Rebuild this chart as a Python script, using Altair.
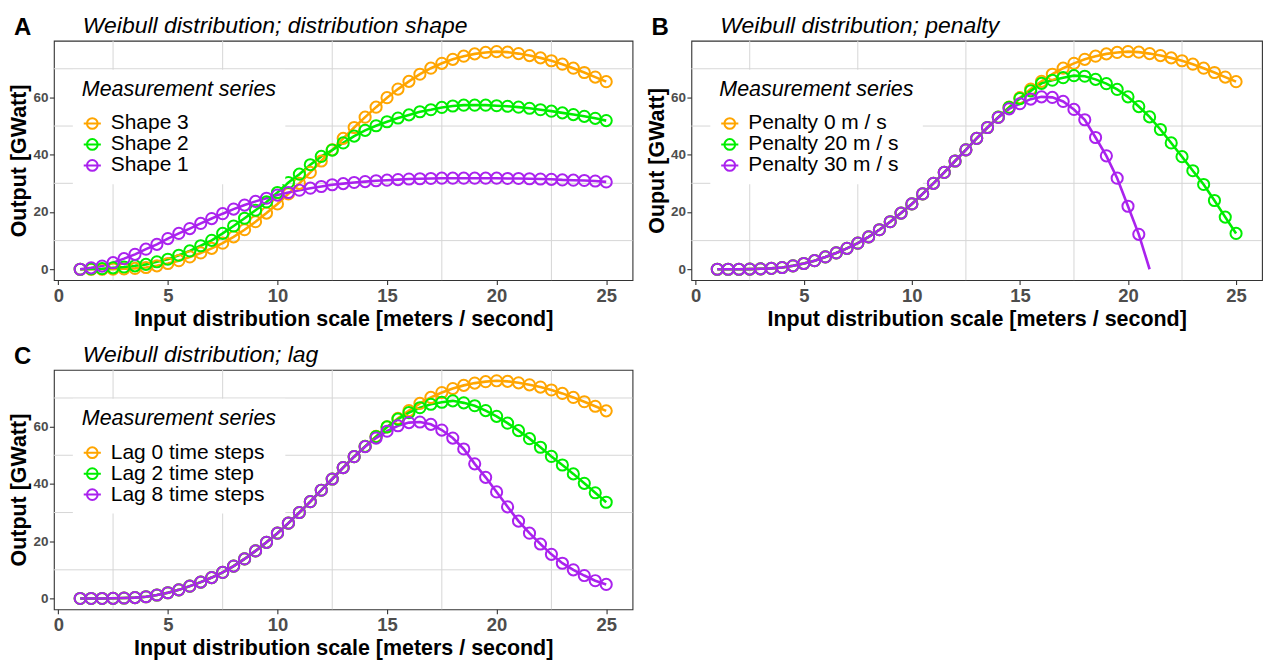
import altair as alt
import pandas as pd

FONT = "Liberation Sans"

x_vals = [1, 1.5, 2, 2.5, 3, 3.5, 4, 4.5, 5, 5.5, 6, 6.5, 7, 7.5, 8, 8.5, 9, 9.5,
          10, 10.5, 11, 11.5, 12, 12.5, 13, 13.5, 14, 14.5, 15, 15.5, 16, 16.5,
          17, 17.5, 18, 18.5, 19, 19.5, 20, 20.5, 21, 21.5, 22, 22.5, 23, 23.5,
          24, 24.5, 25]
x_pen30 = [1, 1.5, 2, 2.5, 3, 3.5, 4, 4.5, 5, 5.5, 6, 6.5, 7, 7.5, 8, 8.5, 9, 9.5,
           10, 10.5, 11, 11.5, 12, 12.5, 13, 13.5, 14, 14.5, 15, 15.5, 16, 16.5,
           17, 17.5, 18, 18.5, 19, 19.5, 20, 20.5, 21]

# Panel A
shape3 = [0, 0, 0, 0.05, 0.15, 0.3, 0.6, 1.2, 2.0, 3.0, 4.3, 5.7, 7.3, 9.1, 11.3,
          13.8, 16.6, 19.6, 22.8, 26.3, 30.0, 33.8, 37.8, 41.7, 45.7, 49.5, 53.1,
          56.6, 59.9, 62.9, 65.6, 68.1, 70.2, 71.9, 73.3, 74.4, 75.2, 75.7, 76.0,
          75.8, 75.3, 74.6, 73.8, 72.8, 71.6, 70.2, 68.7, 67.1, 65.5]
shape2 = [0, 0.1, 0.2, 0.5, 0.8, 1.2, 1.7, 2.6, 3.5, 4.9, 6.4, 8.2, 10.1, 12.5, 15.1,
          17.8, 20.6, 23.5, 26.8, 30.3, 33.2, 36.5, 39.4, 41.6, 44.1, 46.5, 48.5,
          50.1, 51.5, 52.8, 53.9, 55.0, 55.7, 56.5, 57.0, 57.3, 57.3, 57.3, 57.1,
          56.9, 56.6, 56.2, 55.7, 55.2, 54.6, 54.0, 53.4, 52.7, 51.9]
shape1 = [0, 0.5, 1.1, 2.3, 3.7, 5.2, 7.0, 8.7, 10.7, 12.5, 14.2, 16.0, 17.7, 19.4,
          21.0, 22.4, 23.7, 24.8, 25.9, 26.8, 27.6, 28.3, 28.9, 29.5, 29.9, 30.3,
          30.6, 30.9, 31.1, 31.3, 31.5, 31.6, 31.7, 31.8, 31.8, 31.8, 31.8, 31.8,
          31.8, 31.7, 31.7, 31.6, 31.5, 31.4, 31.2, 31.1, 31.0, 30.8, 30.5]

# Panel B
pen0 = [0, 0, 0, 0.05, 0.15, 0.3, 0.6, 1.2, 2.0, 3.0, 4.3, 5.7, 7.3, 9.1, 11.3,
        13.8, 16.6, 19.6, 22.8, 26.3, 30.0, 33.8, 37.8, 41.7, 45.7, 49.5, 53.1,
        56.6, 59.9, 62.9, 65.6, 68.1, 70.2, 71.9, 73.3, 74.4, 75.2, 75.7, 76.0,
        75.8, 75.3, 74.6, 73.8, 72.8, 71.6, 70.2, 68.7, 67.1, 65.5]
pen20 = [0, 0, 0, 0.05, 0.15, 0.3, 0.6, 1.2, 2.0, 3.0, 4.3, 5.7, 7.3, 9.1, 11.3,
         13.8, 16.6, 19.6, 22.8, 26.3, 30.0, 33.8, 37.8, 41.7, 45.7, 49.5, 53.1,
         56.5, 59.6, 62.3, 64.9, 66.0, 66.9, 67.6, 67.4, 66.3, 64.8, 62.8, 60.2,
         56.8, 53.2, 48.8, 44.1, 39.3, 34.4, 29.6, 24.0, 18.2, 12.5]
pen30 = [0, 0, 0, 0.05, 0.15, 0.3, 0.6, 1.2, 2.0, 3.0, 4.3, 5.7, 7.3, 9.1, 11.3,
         13.8, 16.6, 19.6, 22.8, 26.3, 30.0, 33.8, 37.8, 41.7, 45.7, 49.5, 53.0,
         56.0, 57.8, 59.4, 60.2, 60.0, 58.6, 55.8, 52.2, 46.0, 39.6, 31.8, 22.0,
         12.2, 0]

# Panel C
lag0 = [0, 0, 0, 0.05, 0.15, 0.3, 0.6, 1.2, 2.0, 3.0, 4.3, 5.7, 7.3, 9.1, 11.3,
        13.8, 16.6, 19.6, 22.8, 26.3, 30.0, 33.8, 37.8, 41.7, 45.7, 49.5, 53.1,
        56.6, 59.9, 62.9, 65.6, 68.1, 70.2, 71.9, 73.3, 74.4, 75.2, 75.7, 76.0,
        75.8, 75.3, 74.6, 73.8, 72.8, 71.6, 70.2, 68.7, 67.1, 65.5]
lag2 = [0, 0, 0, 0.05, 0.15, 0.3, 0.6, 1.2, 2.0, 3.0, 4.3, 5.7, 7.3, 9.1, 11.3,
        13.8, 16.6, 19.6, 22.8, 26.3, 30.0, 33.8, 37.8, 41.7, 45.7, 49.5, 53.1,
        56.5, 59.9, 62.6, 64.9, 66.6, 67.8, 68.5, 69.0, 68.3, 67.3, 65.6, 63.6,
        61.2, 58.6, 55.8, 52.8, 49.6, 46.6, 43.5, 40.2, 36.9, 33.6]
lag8 = [0, 0, 0, 0.05, 0.15, 0.3, 0.6, 1.2, 2.0, 3.0, 4.3, 5.7, 7.3, 9.1, 11.3,
        13.8, 16.6, 19.6, 22.8, 26.3, 30.0, 33.8, 37.8, 41.7, 45.7, 49.5, 53.0,
        56.0, 58.4, 60.3, 61.4, 61.6, 60.8, 58.8, 56.0, 52.2, 47.0, 42.3, 37.2,
        32.0, 27.0, 22.8, 19.0, 15.4, 12.3, 10.0, 8.0, 6.2, 4.9]

names_a = ["Shape 3", "Shape 2", "Shape 1"]
names_b = ["Penalty 0 m / s", "Penalty 20 m / s", "Penalty 30 m / s"]
names_c = ["Lag 0 time steps", "Lag 2 time step", "Lag 8 time steps"]

x_major = [0, 5, 10, 15, 20, 25]
x_minor = [2.5, 7.5, 12.5, 17.5, 22.5]
y_major = [0, 20, 40, 60]
y_minor = [10, 30, 50, 70]

COLORS = ["#FFA500", "#00EE00", "#AA22EE"]
GRID = "#D6D6D6"
LEGEND_PATH = "M-1.6,0L1.6,0M-1,0A1,1,0,1,0,1,0A1,1,0,1,0,-1,0"


def make_df(series):
    rows = []
    for name, xs, ys, last_marker in series:
        for i, (x, y) in enumerate(zip(xs, ys)):
            marker = last_marker or i < len(xs) - 1
            rows.append({"x": x, "y": y, "series": name, "m": marker})
    return pd.DataFrame(rows)


def panel(df, names, title, letter, ytitle, width):
    xs = alt.Scale(domain=[-0.2, 26.2], nice=False, zero=False)
    ys = alt.Scale(domain=[-3.8, 79.8], nice=False, zero=False)
    legend = alt.Legend(
        title="Measurement series", orient="none", legendX=19, legendY=29,
        fillColor="white", padding=9, titleFont=FONT, titleFontSize=21.5,
        titleFontStyle="italic", titleFontWeight="normal", titleColor="black",
        titlePadding=13, titleLimit=0, labelLimit=0, labelFont=FONT, labelFontSize=21,
        labelColor="black", labelOffset=8, rowPadding=-3, symbolType=LEGEND_PATH,
        symbolSize=115, symbolStrokeWidth=2, symbolFillColor="transparent",
        symbolOffset=0,
    )
    color = alt.Color("series:N", scale=alt.Scale(domain=names, range=COLORS),
                      sort=names, legend=legend)
    vminor = alt.Chart(pd.DataFrame({"v": x_minor})).mark_rule(
        color=GRID, strokeWidth=1).encode(x=alt.X("v:Q", scale=xs, axis=None))
    hminor = alt.Chart(pd.DataFrame({"v": y_minor})).mark_rule(
        color=GRID, strokeWidth=1).encode(y=alt.Y("v:Q", scale=ys, axis=None))
    line = alt.Chart(df).mark_line(strokeWidth=2.6).encode(
        x=alt.X("x:Q", scale=xs, axis=alt.Axis(
            values=x_major, title="Input distribution scale [meters / second]",
            labelFontSize=18.5, titleFontSize=21.5, labelPadding=2, titlePadding=3)),
        y=alt.Y("y:Q", scale=ys, axis=alt.Axis(
            values=y_major, title=ytitle, labelFontSize=13.5, titleFontSize=21.5,
            labelPadding=1.5, titlePadding=2)),
        color=color,
    )
    pts = alt.Chart(df).transform_filter("datum.m").mark_point(
        filled=False, size=125, strokeWidth=2, opacity=1).encode(
        x=alt.X("x:Q", scale=xs, axis=None),
        y=alt.Y("y:Q", scale=ys, axis=None),
        color=color,
    )
    lab = alt.Chart(pd.DataFrame({"t": [letter]})).mark_text(
        font=FONT, fontSize=24, fontWeight="bold", align="left", baseline="alphabetic",
        color="black").encode(x=alt.value(-40), y=alt.value(-6), text="t:N")
    return alt.layer(vminor, hminor, line, pts, lab).resolve_axis(
        x="independent", y="independent").properties(
        width=width, height=240,
        title=alt.TitleParams(text=title, anchor="start", frame="group", dx=29,
                              font=FONT, fontSize=23, fontStyle="italic",
                              fontWeight="normal", color="black", offset=-22.5),
    )


df_a = make_df([(names_a[0], x_vals, shape3, True), (names_a[1], x_vals, shape2, True),
                (names_a[2], x_vals, shape1, True)])
df_b = make_df([(names_b[0], x_vals, pen0, True), (names_b[1], x_vals, pen20, True),
                (names_b[2], x_pen30, pen30, False)])
df_c = make_df([(names_c[0], x_vals, lag0, True), (names_c[1], x_vals, lag2, True),
                (names_c[2], x_vals, lag8, True)])

pa = panel(df_a, names_a, "Weibull distribution; distribution shape", "A", "Output [GWatt]", 580)
pb = panel(df_b, names_b, "Weibull distribution; penalty", "B", "Ouput [GWatt]", 572)
pc = panel(df_c, names_c, "Weibull distribution; lag", "C", "Output [GWatt]", 580)

top = alt.hconcat(pa, pb, spacing=11).resolve_scale(color="independent")
chart = alt.vconcat(top, pc, spacing=12).resolve_scale(color="independent").properties(
    padding={"left": 0, "top": 5, "right": 0, "bottom": 0}
).configure_view(stroke="#333333", strokeWidth=1.1).configure_axis(
    labelFont=FONT, titleFont=FONT, labelFontWeight="bold", labelColor="#4D4D4D",
    titleFontWeight="bold", titleColor="black", tickColor="#333333", tickSize=4.5,
    tickWidth=1.1, domain=False, gridColor=GRID, gridWidth=1.3,
)

chart.save("out.html", embed_options={"renderer": "svg", "actions": False})
